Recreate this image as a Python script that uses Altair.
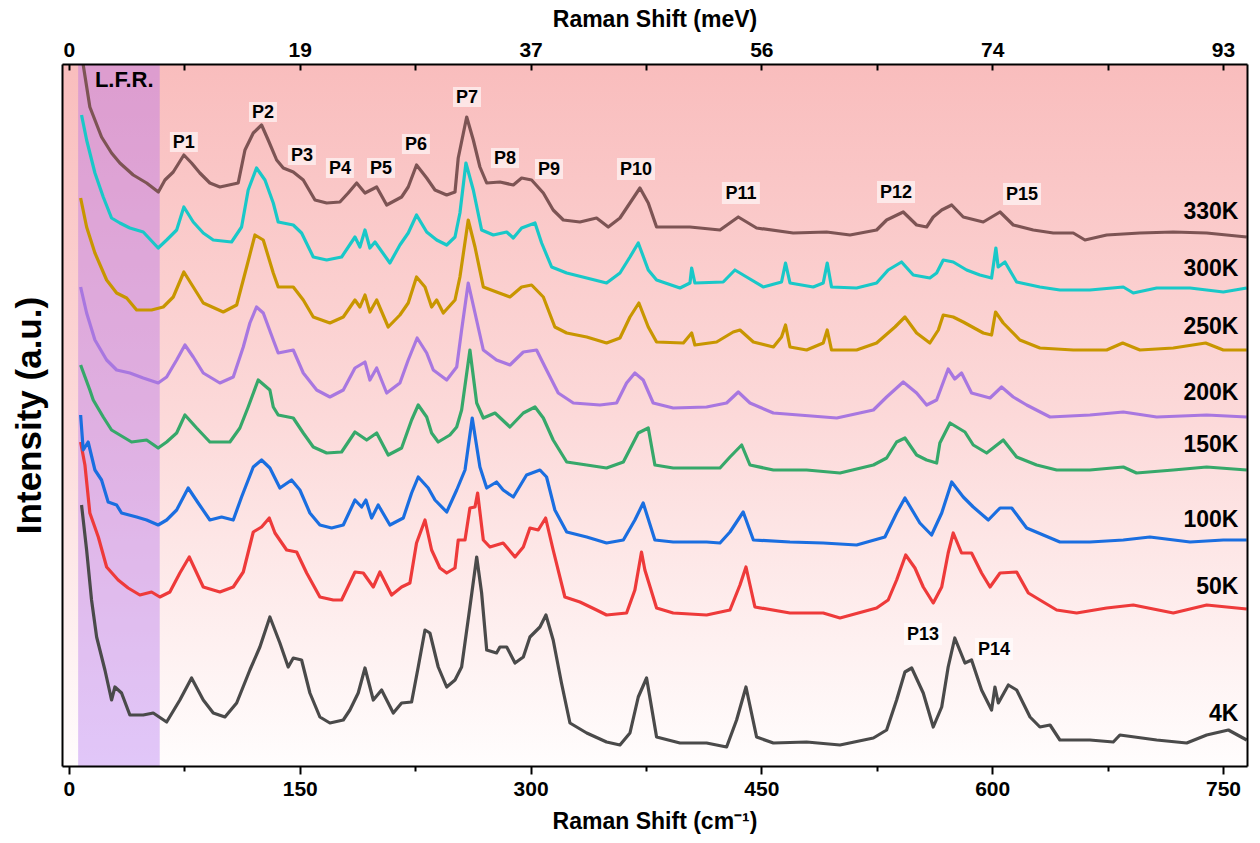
import altair as alt
import pandas as pd

alt.data_transformers.disable_max_rows()

# ---------------- data (Raman shift in cm^-1, intensity in a.u.) ----------------
temps = ["4K", "50K", "100K", "150K", "200K", "250K", "300K", "330K"]
line_colors = ["#4A4A4A", "#EE3A3A", "#1A6EE0", "#36A86A", "#A877E0", "#C89600", "#19C8C8", "#7D5454"]

spec_330k = [(8.0,730),(9.3,701),(13.6,659),(21.2,629),(27.7,613),(33.1,603),(41.8,591),(50.5,583),(58.1,574),
    (62.4,586),(67.8,594),(74.7,611),(79.7,603),(85.1,593),(91.6,583),(98.1,579),(110.0,583),(114.4,616),
    (119.8,633),(125.2,641),(129.5,626),(135.0,606),(139.3,598),(145.8,594),(152.3,586),(159.9,566),(167.5,563),
    (176.1,564),(181.5,573),(187.0,583),(192.4,573),(200.0,579),(206.5,561),(216.2,569),(220.5,579),(225.9,601),
    (232.5,588),(237.9,576),(245.5,571),(250.9,574),(253.0,608),(258.5,649),(262.8,626),(267.1,599),(271.5,583),
    (280.1,584),(288.8,581),(294.2,588),(300.7,586),(308.3,573),(314.7,556),(321.3,546),(332.1,544),(342.9,548),
    (350.5,539),(358.1,548),(364.6,563),(371.1,578),(376.5,563),(381.9,539),(403.6,539),(423.1,536),(435.0,549),
    (446.9,538),(470.7,533),(492.4,534),(507.6,531),(524.9,536),(531.4,546),(542.2,554),(550.9,541),(557.4,539),
    (561.7,549),(567.2,556),(573.7,561),(581.2,549),(594.2,544),(605.1,554),(613.7,541),(626.7,536),(639.7,533),
    (652.7,533),(660.3,526),(674.4,531),(696.0,533),(717.7,534),(739.4,533),(765.4,529)]

spec_300k = [(8.2,651),(11.5,626),(16.9,593),(22.3,569),(27.7,548),(33.1,543),(39.6,538),(48.3,534),(58.0,518),
    (63.5,526),(70.0,536),(74.7,559),(80.8,544),(87.3,533),(93.8,526),(105.7,524),(112.2,539),(116.5,576),
    (121.9,598),(127.4,586),(132.8,563),(136.0,544),(145.8,541),(151.2,533),(158.8,509),(167.5,506),(177.2,509),
    (185.9,529),(189.1,519),(192.4,536),(195.6,518),(198.9,524),(208.6,503),(215.1,521),(220.5,533),(225.9,551),
    (232.5,534),(239.0,526),(245.5,521),(250.9,529),(254.1,553),(258.0,603),(262.8,576),(268.2,536),(275.8,531),
    (284.5,534),(288.8,528),(294.2,538),(302.9,543),(307.2,523),(313.7,499),(323.5,493),(336.5,488),(349.4,483),
    (358.1,493),(364.6,509),(370.0,523),(376.5,496),(381.9,486),(397.1,478),(403.6,483),(404.7,498),(406.8,483),
    (425.2,484),(432.8,496),(440.4,489),(451.2,479),(463.1,484),(465.7,503),(468.6,483),(483.7,479),(490.2,483),
    (492.8,503),(495.6,479),(511.9,478),(524.9,483),(532.4,496),(541.1,504),(548.7,491),(559.5,488),(563.9,493),
    (568.2,506),(574.7,504),(583.4,496),(592.0,491),(599.6,488),(602.4,518),(603.9,499),(608.3,504),(615.9,484),
    (631.0,479),(644.0,476),(663.5,476),(685.2,479),(691.7,473),(706.9,478),(728.6,478),(750.2,474),(765.4,478)]

spec_250k = [(7.6,568),(11.5,539),(16.9,513),(24.5,486),(31.0,473),(37.5,468),(44.0,456),(53.7,456),(61.3,459),
    (67.8,469),(74.7,494),(80.8,479),(87.3,463),(100.3,454),(109.0,461),(115.5,499),(120.9,531),(126.3,526),
    (132.8,493),(136.0,479),(145.8,479),(152.3,466),(158.8,449),(169.6,443),(178.3,449),(185.9,466),(189.1,459),
    (192.4,471),(195.6,454),(200.0,466),(207.5,439),(215.1,451),(220.5,463),(225.9,489),(231.4,479),(235.7,459),
    (239.0,466),(243.3,453),(250.9,466),(254.1,489),(259.5,546),(263.9,519),(269.3,479),(277.9,474),(286.6,469),
    (294.2,479),(300.7,481),(308.3,469),(315.8,439),(323.5,433),(336.5,429),(349.4,423),(358.1,428),(364.6,449),
    (370.4,463),(376.5,439),(381.9,424),(399.3,423),(404.7,433),(406.8,421),(420.9,424),(431.7,434),(436.1,436),
    (444.8,424),(457.8,419),(463.1,429),(465.7,441),(468.6,419),(479.4,416),(490.2,423),(492.8,436),(495.6,416),
    (511.9,416),(524.9,423),(536.8,439),(543.3,449),(550.9,433),(559.5,423),(565.0,436),(568.2,451),(574.7,449),
    (581.2,444),(594.2,433),(599.6,431),(602.2,454),(607.2,443),(618.0,426),(631.0,418),(652.7,416),(674.4,416),
    (684.8,423),(696.0,416),(717.7,418),(738.7,423),(750.2,416),(765.4,416)]

spec_200k = [(7.6,479),(11.5,453),(16.9,426),(24.5,406),(31.0,396),(39.6,393),(48.3,388),(58.0,383),(63.5,389),
    (70.0,406),(75.4,421),(80.8,409),(87.3,393),(98.1,383),(106.8,389),(113.3,419),(117.6,443),(121.9,459),
    (126.3,453),(132.8,426),(136.0,413),(145.8,416),(152.3,393),(161.0,376),(169.6,369),(178.3,376),(185.9,398),
    (192.4,404),(195.6,386),(200.0,398),(206.5,373),(215.1,383),(220.5,406),(226.3,428),(232.5,413),(236.8,396),
    (245.5,386),(252.0,399),(255.2,436),(259.5,483),(263.9,453),(269.3,416),(277.9,406),(286.6,401),(295.3,414),
    (303.9,416),(310.4,396),(318.0,373),(327.8,363),(345.1,361),(355.9,363),(362.4,383),(367.8,393),(373.2,386),
    (379.7,363),(392.7,358),(414.4,359),(427.4,363),(435.0,374),(442.6,363),(457.8,353),(499.0,348),(522.8,356),
    (531.4,369),(542.2,384),(550.9,373),(557.4,361),(563.9,366),(571.4,397),(575.7,387),(580.1,393),(586.6,373),
    (598.6,368),(606.1,379),(613.7,369),(622.4,361),(637.6,349),(663.5,351),(685.2,354),(706.9,349),(739.4,351),
    (765.4,349)]

spec_150k = [(7.6,401),(13.6,376),(15.8,366),(22.3,349),(27.7,336),(33.1,331),(40.7,324),(50.5,326),(58.0,318),
    (63.5,324),(70.0,333),(75.4,351),(83.0,338),(91.6,324),(104.6,324),(111.1,338),(116.5,359),(123.0,386),
    (130.6,376),(132.8,359),(136.0,351),(145.8,348),(152.3,333),(158.8,319),(167.5,313),(177.2,314),(185.9,334),
    (193.5,326),(200.0,333),(207.5,311),(216.2,318),(222.7,346),(227.0,361),(232.5,349),(235.7,333),(240.0,324),
    (247.6,331),(252.0,339),(255.2,356),(260.6,416),(265.0,363),(269.3,348),(276.9,353),(286.6,339),(295.3,353),
    (302.9,359),(308.3,348),(314.7,326),(323.5,304),(336.5,301),(349.4,298),(360.3,304),(370.0,333),(376.5,338),
    (380.8,301),(392.7,298),(414.4,298),(423.1,298),(429.6,309),(437.2,321),(442.6,301),(457.8,296),(479.4,296),
    (501.1,293),(522.8,301),(531.4,308),(537.9,324),(543.3,328),(550.9,311),(557.4,306),(563.9,303),(566.0,323),
    (572.6,343),(582.3,334),(587.7,321),(596.4,313),(607.2,326),(615.9,309),(628.9,301),(641.9,296),(663.5,296),
    (685.2,299),(693.8,293),(717.7,296),(739.4,299),(765.4,296)]

spec_100k = [(7.6,351),(9.3,316),(12.5,324),(16.9,296),(21.2,286),(25.5,264),(31.0,261),(34.2,253),(44.0,249),
    (50.5,246),(58.0,241),(63.5,246),(70.0,256),(77.5,278),(84.0,263),(91.6,246),(99.2,249),(106.8,246),
    (112.2,269),(119.8,299),(125.2,306),(130.6,298),(137.1,278),(144.7,286),(150.1,276),(156.6,253),(163.1,241),
    (170.7,238),(178.3,241),(185.9,266),(190.2,259),(193.0,266),(196.7,248),(201.0,261),(208.6,241),(217.3,248),
    (222.7,273),(227.0,289),(233.5,278),(237.9,266),(245.5,254),(252.0,276),(257.4,296),(262.1,348),(267.1,299),
    (271.5,278),(277.9,284),(282.2,276),(288.8,269),(297.4,291),(306.1,296),(310.4,289),(315.8,256),(323.5,234),
    (336.5,229),(349.4,223),(360.3,226),(367.8,246),(373.2,263),(380.8,226),(392.7,224),(414.4,224),(423.1,223),
    (429.6,234),(438.2,254),(444.8,226),(468.6,224),(490.2,223),(511.9,221),(530.3,229),(537.9,253),(543.3,268),
    (553.0,243),(560.6,231),(567.2,253),(573.7,284),(581.2,269),(587.7,259),(597.5,246),(605.1,258),(612.7,258),
    (622.4,238),(633.2,231),(644.0,224),(663.5,224),(685.2,226),(702.5,229),(728.6,224),(750.2,226),(765.4,226)]

spec_50k = [(7.6,324),(10.4,301),(13.6,253),(19.1,229),(24.5,199),(32.0,186),(38.5,178),(46.1,171),(53.7,174),
    (59.1,169),(65.6,174),(72.1,193),(78.2,209),(87.3,179),(98.1,174),(106.8,179),(113.3,194),(119.8,234),
    (125.2,239),(130.2,248),(133.9,233),(141.5,216),(148.0,214),(154.5,193),(163.1,169),(171.8,166),(177.2,166),
    (185.9,194),(191.3,193),(197.8,179),(202.1,194),(209.7,171),(216.2,179),(221.6,183),(225.9,223),(231.4,246),
    (235.7,216),(241.1,198),(245.5,193),(250.9,198),(253.0,226),(257.4,226),(260.6,258),(263.9,259),(265.6,273),
    (269.3,226),(273.6,219),(282.2,223),(289.9,209),(295.3,219),(299.6,238),(305.0,236),(309.8,248),(314.7,216),
    (322.3,169),(332.1,164),(342.9,156),(349.4,151),(362.4,153),(367.8,176),(372.1,214),(374.3,196),(381.9,158),
    (392.7,153),(414.4,151),(429.6,156),(436.1,181),(440.0,199),(445.8,159),(468.6,153),(490.2,153),(501.1,148),
    (524.9,158),(532.4,166),(537.9,186),(543.8,211),(549.8,198),(555.2,179),(561.7,163),(567.2,179),(571.4,213),
    (574.7,233),(580.1,213),(586.6,213),(593.1,193),(598.6,179),(605.1,193),(615.9,194),(623.5,173),(633.2,164),
    (641.9,156),(654.9,153),(674.4,158),(691.7,161),(717.7,153),(739.4,161),(765.4,157)]

spec_4k = [(8.2,261),(11.5,216),(14.7,166),(18.0,129),(23.4,96),(27.7,66),(29.9,79),(34.2,73),(39.6,51),
    (48.3,51),(54.8,53),(63.5,44),(72.1,66),(79.7,88),(87.3,66),(93.8,53),(101.4,49),(109.0,63),(117.6,96),
    (124.1,119),(130.6,149),(137.1,123),(142.5,99),(145.8,108),(151.2,106),(156.6,73),(163.1,49),(169.6,43),
    (178.3,46),(182.6,56),(188.0,73),(192.4,98),(197.8,66),(203.2,76),(210.8,53),(216.2,63),(222.7,64),(227.0,99),
    (231.4,136),(234.6,133),(240.0,99),(245.5,79),(250.9,86),(255.2,99),(260.6,159),(265.0,209),(268.2,173),
    (271.5,116),(277.9,113),(280.1,119),(284.5,119),(289.9,103),(295.3,109),(299.6,129),(306.1,139),(310.0,151),
    (314.7,126),(320.1,83),(325.6,43),(336.5,33),(349.4,24),(358.1,21),(364.6,33),(370.0,69),(375.4,88),(381.9,29),
    (397.1,23),(414.4,23),(427.4,19),(433.9,46),(440.0,79),(446.9,29),(457.8,23),(479.4,24),(501.1,21),(522.8,28),
    (531.4,36),(537.9,66),(543.3,94),(547.7,98),(555.2,73),(561.7,39),(567.2,59),(571.4,99),(575.7,128),
    (582.3,103),(586.6,106),(593.1,76),(599.6,56),(601.8,79),(604.0,63),(610.5,81),(615.9,76),(624.6,49),
    (631.0,39),(637.6,41),(644.0,26),(663.5,26),(678.7,24),(683.0,31),(706.9,26),(726.4,23),(739.4,31),
    (753.5,36),(765.4,26)]

# peak annotations (label, shift, intensity)
peak_names_short = ["P1", "P2", "P3", "P4", "P5", "P6", "P7", "P8", "P9"]
peak_x_short = [74.7, 126.1, 151.4, 176.1, 202.8, 225.5, 258.7, 283.4, 312.0]
peak_y_short = [624, 654, 611, 598, 598, 622, 669, 608, 597]
peak_names_long = ["P10", "P11", "P12", "P15", "P13", "P14"]
peak_x_long = [368.5, 436.7, 537.5, 619.4, 555.0, 601.2]
peak_y_long = [597, 573, 574, 572, 132, 117]

# temperature labels
temp_label_x = [760] * 8
temp_label_y = [52, 179, 246, 321, 373, 439, 497, 554]

# low-frequency region band
lfr_start, lfr_end = 6.0, 59.0

# axis ticks
tick_values = [0, 75, 150, 225, 300, 375, 450, 525, 600, 675, 750]
X_DOMAIN = [-4.5, 765.6]
Y_DOMAIN = [0, 702]

# ---------------- build tables ----------------
traces = {"4K": spec_4k, "50K": spec_50k, "100K": spec_100k, "150K": spec_150k,
          "200K": spec_200k, "250K": spec_250k, "300K": spec_300k, "330K": spec_330k}
df = pd.DataFrame([{"shift": x, "intensity": y, "temp": t}
                   for t, pts in traces.items() for x, y in pts])
peaks_short = pd.DataFrame({"label": peak_names_short, "x": peak_x_short, "y": peak_y_short})
peaks_long = pd.DataFrame({"label": peak_names_long, "x": peak_x_long, "y": peak_y_long})
temp_df = pd.DataFrame({"label": temps, "x": temp_label_x, "y": temp_label_y})
band_df = pd.DataFrame({"start": [lfr_start], "end": [lfr_end]})
lfr_df = pd.DataFrame({"label": ["L.F.R."], "x": [16.9], "y": [686]})

W, H = 1185, 702
FONT = "Liberation Sans"
xs = alt.Scale(domain=X_DOMAIN, nice=False, zero=False)
ys = alt.Scale(domain=Y_DOMAIN, nice=False, zero=False)

axis_common = dict(labelFont=FONT, labelFontSize=21, labelFontWeight="bold", labelColor="black",
                   titleFont=FONT, titleFontSize=23, titleFontWeight="bold", titleColor="black",
                   domainColor="black", domainWidth=2, tickColor="black", tickWidth=2,
                   grid=False, zindex=1)

bottom_axis = alt.Axis(orient="bottom", values=tick_values,
                       labelExpr="datum.value % 150 === 0 ? datum.label : ''",
                       tickSize={"condition": {"test": "datum.value % 150 === 0", "value": 8}, "value": 5},
                       labelPadding=4, titlePadding=11, title="Raman Shift (cm⁻¹)", **axis_common)
top_axis = alt.Axis(orient="top", values=tick_values,
                    labelExpr="datum.value % 150 === 0 ? format(datum.value / 8.0655, '.0f') : ''",
                    tickSize={"expr": "-6"}, labelPadding=10, titlePadding=8,
                    title="Raman Shift (meV)", **axis_common)
left_axis = alt.Axis(orient="left", ticks=False, labels=False, title="Intensity (a.u.)",
                     titlePadding=15, **{**axis_common, "titleFontSize": 35})
right_axis = alt.Axis(orient="right", ticks=False, labels=False, title="", **axis_common)

bg = alt.Chart(pd.DataFrame({"k": [0]})).mark_rect(
    color={"gradient": "linear", "x1": 0, "y1": 0, "x2": 0, "y2": 1,
           "stops": [{"offset": 0, "color": "#F9BDBD"},
                     {"offset": 0.5, "color": "#FCD9D9"},
                     {"offset": 1, "color": "#FFFDFD"}]}
).encode(x=alt.value(0), x2=alt.value(W), y=alt.value(0), y2=alt.value(H))

band = alt.Chart(band_df).mark_rect(color="#A962F1", opacity=0.35).encode(
    x=alt.X("start:Q", scale=xs, axis=None), x2="end:Q",
    y=alt.value(0), y2=alt.value(H))

lines = alt.Chart(df).mark_line(strokeWidth=3.2, clip=True, strokeJoin="round").encode(
    x=alt.X("shift:Q", scale=xs, axis=bottom_axis),
    y=alt.Y("intensity:Q", scale=ys, axis=left_axis),
    color=alt.Color("temp:N", scale=alt.Scale(domain=temps, range=line_colors), legend=None),
    order=alt.Order("shift:Q"))

def boxes(data, hw, hh):
    return alt.Chart(data).mark_rect(color="white", opacity=0.6,
                                     xOffset=-hw, x2Offset=hw, yOffset=-hh, y2Offset=hh).encode(
        x=alt.X("x:Q", scale=xs, axis=None), x2="x:Q",
        y=alt.Y("y:Q", scale=ys, axis=None), y2="y:Q")

def texts(data, size):
    return alt.Chart(data).mark_text(font=FONT, fontSize=size, fontWeight="bold", color="black",
                                     align="center", baseline="middle", dy=1).encode(
        x=alt.X("x:Q", scale=xs, axis=None), y=alt.Y("y:Q", scale=ys, axis=None), text="label:N")

lfr_text = alt.Chart(lfr_df).mark_text(font=FONT, fontSize=22, fontWeight="bold", color="black",
                                       align="left", baseline="middle").encode(
    x=alt.X("x:Q", scale=xs, axis=None), y=alt.Y("y:Q", scale=ys, axis=None), text="label:N")

temp_text = alt.Chart(temp_df).mark_text(font=FONT, fontSize=23, fontWeight="bold", color="black",
                                         align="right", baseline="middle").encode(
    x=alt.X("x:Q", scale=xs, axis=top_axis),
    y=alt.Y("y:Q", scale=ys, axis=right_axis), text="label:N")

chart = alt.layer(
    bg, band, lines,
    boxes(peaks_short, 14, 10), boxes(peaks_long, 19, 11),
    texts(peaks_short, 18), texts(peaks_long, 18),
    lfr_text, temp_text
).resolve_axis(x="independent", y="independent").properties(
    width=W, height=H,
    autosize=alt.AutoSizeParams(type="none"),
    padding={"left": 62, "top": 64, "right": 13, "bottom": 77},
    background="white"
).configure_view(stroke="transparent")

chart.save("out.html", embed_options={"renderer": "svg", "actions": False})
